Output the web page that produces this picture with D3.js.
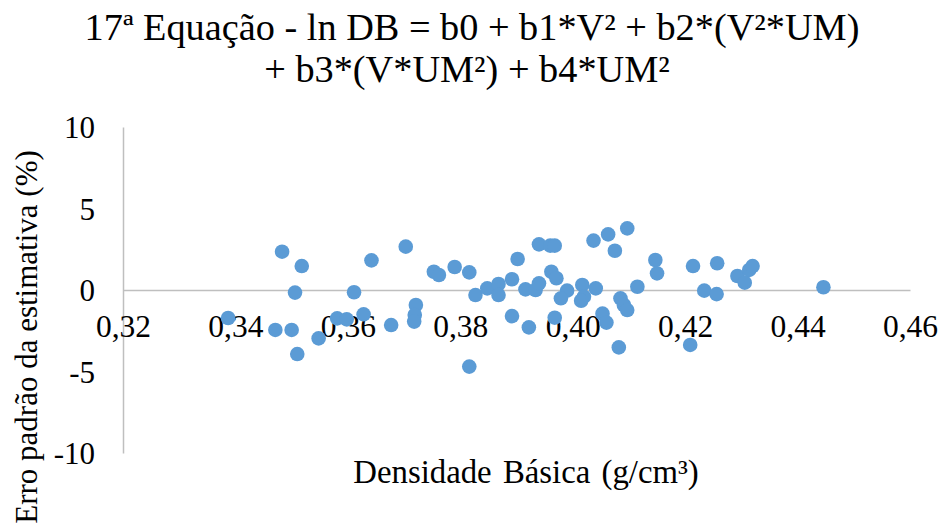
<!DOCTYPE html>
<html>
<head>
<meta charset="utf-8">
<script src="https://cdn.jsdelivr.net/npm/d3@7"></script>
<style>
  html, body { margin: 0; padding: 0; background: #fff; }
  svg { display: block; }
</style>
</head>
<body>
<svg id="chart" width="944" height="523"></svg>
<script>
// ---- data ----
const titleLines = ["17ª Equação - ln DB = b0 + b1*V² + b2*(V²*UM)", "+ b3*(V*UM²) + b4*UM²"];
const xTitle = "Densidade Básica (g/cm³)";
const yTitle = "Erro padrão da estimativa (%)";
const xTicks = [0.32, 0.34, 0.36, 0.38, 0.40, 0.42, 0.44, 0.46];
const xTickLabels = ["0,32", "0,34", "0,36", "0,38", "0,40", "0,42", "0,44", "0,46"];
const yTicks = [-10, -5, 0, 5, 10];
const yTickLabels = ["-10", "-5", "0", "5", "10"];
const densidade = [
  0.3387, 0.3471, 0.3483, 0.3500, 0.3506, 0.3510, 0.3518, 0.3548, 0.3581, 0.3598,
  0.3611, 0.3628, 0.3642, 0.3677, 0.3703, 0.3721, 0.3719, 0.3718, 0.3753, 0.3762,
  0.3790, 0.3816, 0.3827, 0.3816, 0.3848, 0.3868, 0.3868, 0.3892, 0.3902, 0.3892,
  0.3916, 0.3922, 0.3934, 0.3940, 0.3940, 0.3960, 0.3968, 0.3962, 0.3971, 0.3990,
  0.3968, 0.3979, 0.4017, 0.4020, 0.4015, 0.4041, 0.4037, 0.4063, 0.4097, 0.4075,
  0.4053, 0.4060, 0.4085, 0.4091, 0.4097, 0.4115, 0.4082, 0.4147, 0.4150, 0.4209,
  0.4214, 0.4234, 0.4257, 0.4256, 0.4293, 0.4306, 0.4314, 0.4320, 0.4446
];
const erro = [
  -1.72, -2.45, 2.35, -2.45, -0.16, -3.93, 1.47, -2.97, -1.74, -1.80,
  -0.14, -1.49, 1.82, -2.15, 2.66, -0.92, -1.53, -1.94, 1.12, 0.92,
  1.41, 1.08, -0.31, -4.70, 0.10, 0.37, -0.31, 0.66, 1.90, -1.60,
  0.04, -2.29, 0.00, 0.41, 2.80, 2.72, 2.72, 1.12, 0.72, -0.04,
  -1.70, -0.51, 0.31, -0.41, -0.66, 0.10, 3.03, 3.41, 3.78, 2.41,
  -1.45, -2.00, -0.51, -0.92, -1.23, 0.20, -3.52, 1.84, 1.02, -3.37,
  1.47, -0.04, 1.64, -0.25, 0.86, 0.45, 1.23, 1.47, 0.17
];

// ---- layout ----
const FONT = '"Liberation Serif"';
const svg = d3.select("#chart");
const x = d3.scaleLinear().domain([0.32, 0.46]).range([123, 910]);
const y = d3.scaleLinear().domain([-10, 10]).range([453, 127]);
const axisColor = "#bfbfbf";

// title
const title = svg.append("text")
  .attr("text-anchor", "middle")
  .attr("font-family", FONT)
  .attr("font-size", 38.3)
  .attr("fill", "#000");
title.selectAll("tspan").data(titleLines).enter().append("tspan")
  .attr("x", (d, i) => i === 0 ? 472 : 467)
  .attr("y", (d, i) => 40 + i * 42)
  .attr("font-family", FONT)
  .text(d => d);

// y axis
const yAxis = svg.append("g")
  .attr("transform", `translate(${x(0.32)},0)`)
  .call(d3.axisLeft(y).tickValues(yTicks).tickSize(0)
    .tickFormat((d, i) => yTickLabels[i]));
yAxis.attr("font-family", FONT);
yAxis.select(".domain").attr("stroke", axisColor).attr("stroke-width", 1.5);
yAxis.selectAll("text")
  .attr("x", -28).attr("dy", "0.34em")
  .attr("font-size", 31).attr("font-family", FONT)
  .attr("fill", "#000");

// x axis at y = 0
const xAxis = svg.append("g")
  .attr("transform", `translate(0,${y(0)})`)
  .call(d3.axisBottom(x).tickValues(xTicks).tickSize(0)
    .tickFormat((d, i) => xTickLabels[i]));
xAxis.attr("font-family", FONT);
xAxis.select(".domain").attr("stroke", axisColor).attr("stroke-width", 1.5);
xAxis.selectAll("text")
  .attr("y", 47).attr("dy", 0)
  .attr("font-size", 31.5).attr("font-family", FONT)
  .attr("fill", "#000");

// points
const pts = densidade.map((d, i) => ({ x: d, y: erro[i] }));
svg.append("g").selectAll("circle").data(pts).enter().append("circle")
  .attr("cx", d => x(d.x))
  .attr("cy", d => y(d.y))
  .attr("r", 7.3)
  .attr("fill", "#5b9bd5");

// axis titles
svg.append("text")
  .attr("x", 526).attr("y", 483)
  .attr("text-anchor", "middle")
  .attr("font-family", FONT)
  .attr("font-size", 32.8)
  .attr("word-spacing", 3)
  .attr("fill", "#000")
  .text(xTitle);

svg.append("text")
  .attr("transform", "translate(37,337) rotate(-90)")
  .attr("text-anchor", "middle")
  .attr("font-family", FONT)
  .attr("font-size", 31)
  .attr("fill", "#000")
  .text(yTitle);
</script>
</body>
</html>
